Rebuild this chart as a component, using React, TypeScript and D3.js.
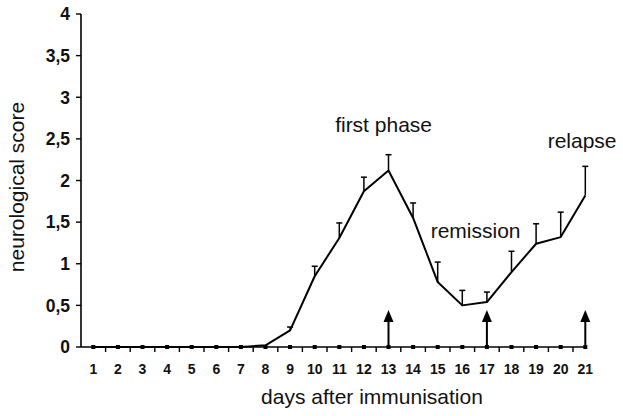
import React from "react";
import * as d3 from "d3";

const days = [1, 2, 3, 4, 5, 6, 7, 8, 9, 10, 11, 12, 13, 14, 15, 16, 17, 18, 19, 20, 21];
const meanScore = [0, 0, 0, 0, 0, 0, 0, 0.02, 0.2, 0.85, 1.31, 1.87, 2.12, 1.55, 0.78, 0.5, 0.54, 0.9, 1.24, 1.32, 1.82];
const semScore = [0, 0, 0, 0, 0, 0, 0, 0, 0.04, 0.12, 0.18, 0.17, 0.19, 0.18, 0.24, 0.18, 0.12, 0.25, 0.24, 0.3, 0.35];
const controlScore = [0, 0, 0, 0, 0, 0, 0, 0, 0, 0, 0, 0, 0, 0, 0, 0, 0, 0, 0, 0, 0];
const yTicks = [0, 0.5, 1, 1.5, 2, 2.5, 3, 3.5, 4];
const arrowDays = [13, 17, 21];
const phaseLabels = ["first phase", "remission", "relapse"];
const phaseDays = [12.8, 16.54, 20.87];
const phaseValues = [2.58, 1.31, 2.39];

const W = 623;
const H = 416;
const FONT = "Arial, 'Liberation Sans', sans-serif";

export default function App() {
  const x = d3.scaleLinear().domain([0.5, 21.5]).range([81, 81 + 21 * 24.6]);
  const y = d3.scaleLinear().domain([0, 4]).range([347, 14]);
  const fmt = (v: number) => String(v).replace(".", ",");
  const line = d3
    .line<number>()
    .x((_, i) => x(days[i]))
    .y((v) => y(v));
  const halfTicks = d3.range(1.5, 21, 1);
  const y0 = y(0);

  return (
    <svg width={W} height={H} style={{ position: "absolute", left: 0, top: 0, background: "#fff" }}>
      <rect width={W} height={H} fill="#fff" />
      {/* y axis */}
      <line x1={x(0.5)} x2={x(0.5)} y1={y(4)} y2={y0} stroke="#000" strokeWidth={1.6} />
      {yTicks.map((t) => (
        <g key={"yt" + t}>
          <line x1={x(0.5) - 5} x2={x(0.5)} y1={y(t)} y2={y(t)} stroke="#000" strokeWidth={1.4} />
          <text
            x={x(0.5) - 11}
            y={y(t)}
            dy="0.36em"
            textAnchor="end"
            fontFamily={FONT}
            fontWeight="bold"
            fontSize={17.5}
            fill="#111"
          >
            {fmt(t)}
          </text>
        </g>
      ))}
      {/* x axis */}
      <line x1={x(0.5)} x2={x(21) + 1} y1={y0} y2={y0} stroke="#000" strokeWidth={1.6} />
      {halfTicks.map((t) => (
        <line key={"xt" + t} x1={x(t)} x2={x(t)} y1={y0} y2={y0 + 5} stroke="#000" strokeWidth={1.4} />
      ))}
      {days.map((d) => (
        <text
          key={"xl" + d}
          x={x(d)}
          y={374}
          textAnchor="middle"
          fontFamily={FONT}
          fontWeight="bold"
          fontSize={14}
          fill="#111"
        >
          {d}
        </text>
      ))}
      {/* control series markers */}
      {controlScore.map((v, i) => (
        <rect key={"c" + i} x={x(days[i]) - 2} y={y(v) - 2} width={4} height={4} fill="#000" />
      ))}
      {/* error bars */}
      {semScore.map((s, i) =>
        s > 0 ? (
          <g key={"e" + i}>
            <line
              x1={x(days[i])}
              x2={x(days[i])}
              y1={y(meanScore[i])}
              y2={y(meanScore[i] + s)}
              stroke="#000"
              strokeWidth={1.5}
            />
            <line
              x1={x(days[i]) - 3}
              x2={x(days[i]) + 3}
              y1={y(meanScore[i] + s)}
              y2={y(meanScore[i] + s)}
              stroke="#000"
              strokeWidth={1.5}
            />
          </g>
        ) : null
      )}
      {/* main line */}
      <path d={line(meanScore) || ""} fill="none" stroke="#000" strokeWidth={2} strokeLinejoin="round" />
      {/* arrows */}
      {arrowDays.map((d) => (
        <g key={"a" + d}>
          <line x1={x(d)} x2={x(d)} y1={y0 - 2} y2={y0 - 28} stroke="#000" strokeWidth={2} />
          <path
            d={`M${x(d)},${y0 - 37} L${x(d) - 5},${y0 - 25} L${x(d) + 5},${y0 - 25} Z`}
            fill="#000"
          />
        </g>
      ))}
      {/* phase annotations */}
      {phaseLabels.map((l, i) => (
        <text
          key={l}
          x={x(phaseDays[i])}
          y={y(phaseValues[i])}
          textAnchor="middle"
          fontFamily={FONT}
          fontSize={21}
          fill="#111"
        >
          {l}
        </text>
      ))}
      {/* axis titles */}
      <text
        x={372}
        y={404}
        textAnchor="middle"
        fontFamily={FONT}
        fontSize={21}
        fill="#111"
      >
        days after immunisation
      </text>
      <text
        transform={`translate(24,187) rotate(-90)`}
        textAnchor="middle"
        fontFamily={FONT}
        fontSize={21}
        fill="#111"
      >
        neurological score
      </text>
    </svg>
  );
}
